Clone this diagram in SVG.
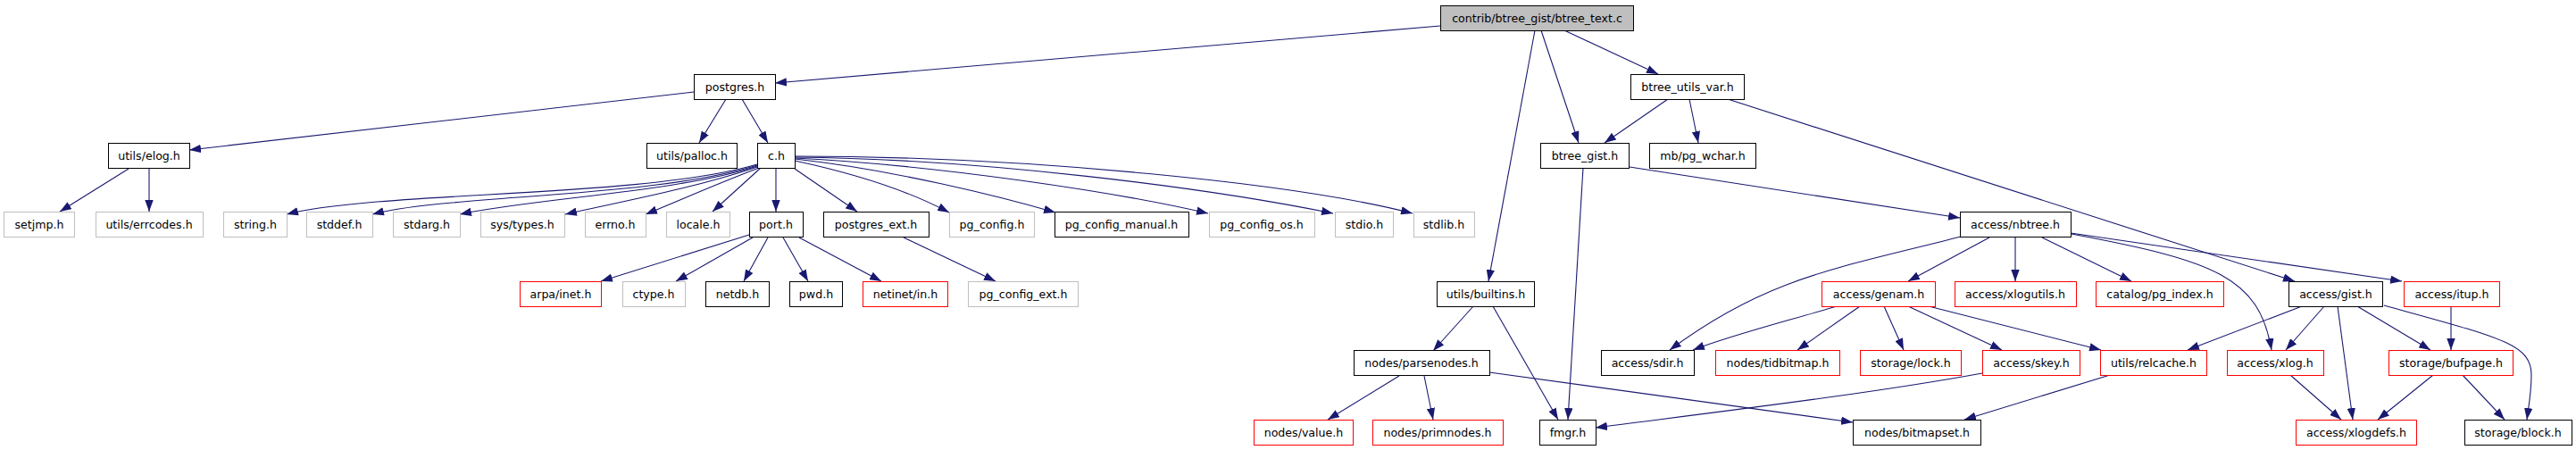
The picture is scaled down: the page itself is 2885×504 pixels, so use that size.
<svg xmlns="http://www.w3.org/2000/svg" width="2885" height="504" viewBox="0 0 2885 504">
<style>
rect{stroke-width:1}
.k rect{fill:#fff;stroke:#000}
.g rect{fill:#fff;stroke:#bfbfbf}
.r rect{fill:#fff;stroke:#ff0000}
.root rect{fill:#bfbfbf;stroke:#000}
text{font-family:"DejaVu Sans",sans-serif;font-size:12.6px;fill:#000;text-anchor:middle}
#edges path{fill:none;stroke:#191970;stroke-width:1.1;marker-end:url(#arr)}
</style>
<defs>
<marker id="arr" viewBox="0 0 13 9.4" refX="13" refY="4.7" markerWidth="13" markerHeight="9.4" orient="auto" markerUnits="userSpaceOnUse">
<path d="M0,0 L13,4.7 L0,9.4 z" fill="#191970" stroke="none"/>
</marker>
</defs>
<rect width="2885" height="504" fill="#fff"/>
<g id="edges">
<path d="M1613,29 L868,93"/>
<path d="M1719,34 L1667,315"/>
<path d="M1726,34 L1768,160"/>
<path d="M1752,34 L1857,83"/>
<path d="M1868,111 L1797,160"/>
<path d="M1892,111 L1902,160"/>
<path d="M1935,111 L2570,315"/>
<path d="M777,103 L212,168"/>
<path d="M813,111 L783,160"/>
<path d="M831,111 L860,160"/>
<path d="M144,189 L67,237"/>
<path d="M167,189 L167,237"/>
<path d="M848,184 C720,222 420,214 321,240"/>
<path d="M848,185 C730,222 500,218 417,240"/>
<path d="M848,186 C760,215 600,222 515,240"/>
<path d="M848,187 C780,210 700,225 633,240"/>
<path d="M850,188 C800,207 760,225 723,240"/>
<path d="M852,188 L798,237"/>
<path d="M869,188 L869,237"/>
<path d="M890,189 L960,237"/>
<path d="M890,180 C960,195 1020,215 1063,238"/>
<path d="M890,178 C1000,190 1120,220 1182,238"/>
<path d="M890,177 C1050,185 1250,215 1353,239"/>
<path d="M890,176 C1100,178 1350,210 1493,239"/>
<path d="M890,175 C1150,175 1450,205 1582,239"/>
<path d="M839,263 L673,315"/>
<path d="M843,266 L757,315"/>
<path d="M860,266 L833,315"/>
<path d="M877,266 L905,315"/>
<path d="M895,266 L987,315"/>
<path d="M1012,266 L1115,315"/>
<path d="M1773,188 L1756,470"/>
<path d="M1825,187 L2195,244"/>
<path d="M1650,343 L1605,393"/>
<path d="M1672,343 L1745,470"/>
<path d="M1567,421 L1487,470"/>
<path d="M1595,421 L1605,470"/>
<path d="M1668,417 L2075,473"/>
<path d="M2196,265 C2060,300 1980,310 1870,392"/>
<path d="M2228,266 L2137,315"/>
<path d="M2257,266 L2257,315"/>
<path d="M2287,266 L2387,315"/>
<path d="M2319,261 L2690,315"/>
<path d="M2320,262 C2480,292 2530,310 2544,392"/>
<path d="M2057,343 C2000,360 1940,375 1896,392"/>
<path d="M2083,343 L2013,392"/>
<path d="M2110,343 L2132,392"/>
<path d="M2137,343 L2242,392"/>
<path d="M2160,343 L2353,392"/>
<path d="M2220,418 C2100,440 1950,458 1787,479"/>
<path d="M2363,420 L2200,470"/>
<path d="M2578,343 L2450,392"/>
<path d="M2603,343 L2560,392"/>
<path d="M2618,343 L2635,470"/>
<path d="M2640,343 L2722,392"/>
<path d="M2670,342 C2800,378 2835,385 2835,420 C2835,440 2832,455 2830,470"/>
<path d="M2745,343 L2745,392"/>
<path d="M2565,420 L2622,470"/>
<path d="M2725,420 L2663,470"/>
<path d="M2758,420 L2805,470"/>
</g>
<g id="n_root" class="root"><rect x="1613.5" y="6.5" width="216" height="28"/><text x="1721.5" y="25">contrib/btree_gist/btree_text.c</text></g>
<g id="n_postgres" class="k"><rect x="777.5" y="83.5" width="91" height="28"/><text x="823" y="102">postgres.h</text></g>
<g id="n_btree_utils_var" class="k"><rect x="1826.5" y="83.5" width="127" height="28"/><text x="1890" y="102">btree_utils_var.h</text></g>
<g id="n_elog" class="k"><rect x="121.5" y="160.5" width="91" height="28"/><text x="167" y="179">utils/elog.h</text></g>
<g id="n_palloc" class="k"><rect x="724.5" y="160.5" width="101" height="28"/><text x="775" y="179">utils/palloc.h</text></g>
<g id="n_c" class="k"><rect x="848.5" y="160.5" width="42" height="28"/><text x="869.5" y="179">c.h</text></g>
<g id="n_btree_gist" class="k"><rect x="1725.5" y="160.5" width="99" height="28"/><text x="1775" y="179">btree_gist.h</text></g>
<g id="n_pg_wchar" class="k"><rect x="1847.5" y="160.5" width="119" height="28"/><text x="1907" y="179">mb/pg_wchar.h</text></g>
<g id="n_setjmp" class="g"><rect x="4.5" y="237.5" width="79" height="28"/><text x="44" y="256">setjmp.h</text></g>
<g id="n_errcodes" class="g"><rect x="107.5" y="237.5" width="120" height="28"/><text x="167" y="256">utils/errcodes.h</text></g>
<g id="n_string" class="g"><rect x="250.5" y="237.5" width="71" height="28"/><text x="286" y="256">string.h</text></g>
<g id="n_stddef" class="g"><rect x="343.5" y="237.5" width="74" height="28"/><text x="380" y="256">stddef.h</text></g>
<g id="n_stdarg" class="g"><rect x="440.5" y="237.5" width="75" height="28"/><text x="478" y="256">stdarg.h</text></g>
<g id="n_systypes" class="g"><rect x="538.5" y="237.5" width="94" height="28"/><text x="585" y="256">sys/types.h</text></g>
<g id="n_errno" class="g"><rect x="655.5" y="237.5" width="68" height="28"/><text x="689" y="256">errno.h</text></g>
<g id="n_locale" class="g"><rect x="746.5" y="237.5" width="71" height="28"/><text x="782" y="256">locale.h</text></g>
<g id="n_port" class="k"><rect x="839.5" y="237.5" width="60" height="28"/><text x="869" y="256">port.h</text></g>
<g id="n_postgres_ext" class="k"><rect x="922.5" y="237.5" width="118" height="28"/><text x="981" y="256">postgres_ext.h</text></g>
<g id="n_pg_config" class="g"><rect x="1063.5" y="237.5" width="95" height="28"/><text x="1111" y="256">pg_config.h</text></g>
<g id="n_pg_config_manual" class="k"><rect x="1181.5" y="237.5" width="150" height="28"/><text x="1256" y="256">pg_config_manual.h</text></g>
<g id="n_pg_config_os" class="g"><rect x="1354.5" y="237.5" width="118" height="28"/><text x="1413" y="256">pg_config_os.h</text></g>
<g id="n_stdio" class="g"><rect x="1495.5" y="237.5" width="65" height="28"/><text x="1528" y="256">stdio.h</text></g>
<g id="n_stdlib" class="g"><rect x="1583.5" y="237.5" width="68" height="28"/><text x="1617" y="256">stdlib.h</text></g>
<g id="n_nbtree" class="k"><rect x="2195.5" y="237.5" width="124" height="28"/><text x="2257" y="256">access/nbtree.h</text></g>
<g id="n_arpa_inet" class="r"><rect x="582.5" y="315.5" width="91" height="28"/><text x="628" y="334">arpa/inet.h</text></g>
<g id="n_ctype" class="g"><rect x="697.5" y="315.5" width="70" height="28"/><text x="732" y="334">ctype.h</text></g>
<g id="n_netdb" class="k"><rect x="790.5" y="315.5" width="71" height="28"/><text x="826" y="334">netdb.h</text></g>
<g id="n_pwd" class="k"><rect x="884.5" y="315.5" width="59" height="28"/><text x="914" y="334">pwd.h</text></g>
<g id="n_netinet_in" class="r"><rect x="966.5" y="315.5" width="95" height="28"/><text x="1014" y="334">netinet/in.h</text></g>
<g id="n_pg_config_ext" class="g"><rect x="1084.5" y="315.5" width="123" height="28"/><text x="1146" y="334">pg_config_ext.h</text></g>
<g id="n_builtins" class="k"><rect x="1609.5" y="315.5" width="109" height="28"/><text x="1664" y="334">utils/builtins.h</text></g>
<g id="n_genam" class="r"><rect x="2040.5" y="315.5" width="127" height="28"/><text x="2104" y="334">access/genam.h</text></g>
<g id="n_xlogutils" class="r"><rect x="2189.5" y="315.5" width="136" height="28"/><text x="2257" y="334">access/xlogutils.h</text></g>
<g id="n_pg_index" class="r"><rect x="2347.5" y="315.5" width="143" height="28"/><text x="2419" y="334">catalog/pg_index.h</text></g>
<g id="n_gist" class="k"><rect x="2563.5" y="315.5" width="105" height="28"/><text x="2616" y="334">access/gist.h</text></g>
<g id="n_itup" class="r"><rect x="2692.5" y="315.5" width="107" height="28"/><text x="2746" y="334">access/itup.h</text></g>
<g id="n_parsenodes" class="k"><rect x="1516.5" y="392.5" width="152" height="28"/><text x="1592" y="411">nodes/parsenodes.h</text></g>
<g id="n_sdir" class="k"><rect x="1793.5" y="392.5" width="104" height="28"/><text x="1845" y="411">access/sdir.h</text></g>
<g id="n_tidbitmap" class="r"><rect x="1921.5" y="392.5" width="139" height="28"/><text x="1991" y="411">nodes/tidbitmap.h</text></g>
<g id="n_lock" class="r"><rect x="2083.5" y="392.5" width="113" height="28"/><text x="2140" y="411">storage/lock.h</text></g>
<g id="n_skey" class="r"><rect x="2220.5" y="392.5" width="109" height="28"/><text x="2275" y="411">access/skey.h</text></g>
<g id="n_relcache" class="r"><rect x="2352.5" y="392.5" width="119" height="28"/><text x="2412" y="411">utils/relcache.h</text></g>
<g id="n_xlog" class="r"><rect x="2494.5" y="392.5" width="108" height="28"/><text x="2548" y="411">access/xlog.h</text></g>
<g id="n_bufpage" class="r"><rect x="2675.5" y="392.5" width="139" height="28"/><text x="2745" y="411">storage/bufpage.h</text></g>
<g id="n_value" class="r"><rect x="1404.5" y="470.5" width="111" height="28"/><text x="1460" y="489">nodes/value.h</text></g>
<g id="n_primnodes" class="r"><rect x="1537.5" y="470.5" width="146" height="28"/><text x="1610" y="489">nodes/primnodes.h</text></g>
<g id="n_fmgr" class="k"><rect x="1724.5" y="470.5" width="63" height="28"/><text x="1756" y="489">fmgr.h</text></g>
<g id="n_bitmapset" class="k"><rect x="2075.5" y="470.5" width="143" height="28"/><text x="2147" y="489">nodes/bitmapset.h</text></g>
<g id="n_xlogdefs" class="r"><rect x="2571.5" y="470.5" width="135" height="28"/><text x="2639" y="489">access/xlogdefs.h</text></g>
<g id="n_block" class="k"><rect x="2760.5" y="470.5" width="120" height="28"/><text x="2820" y="489">storage/block.h</text></g>
</svg>
